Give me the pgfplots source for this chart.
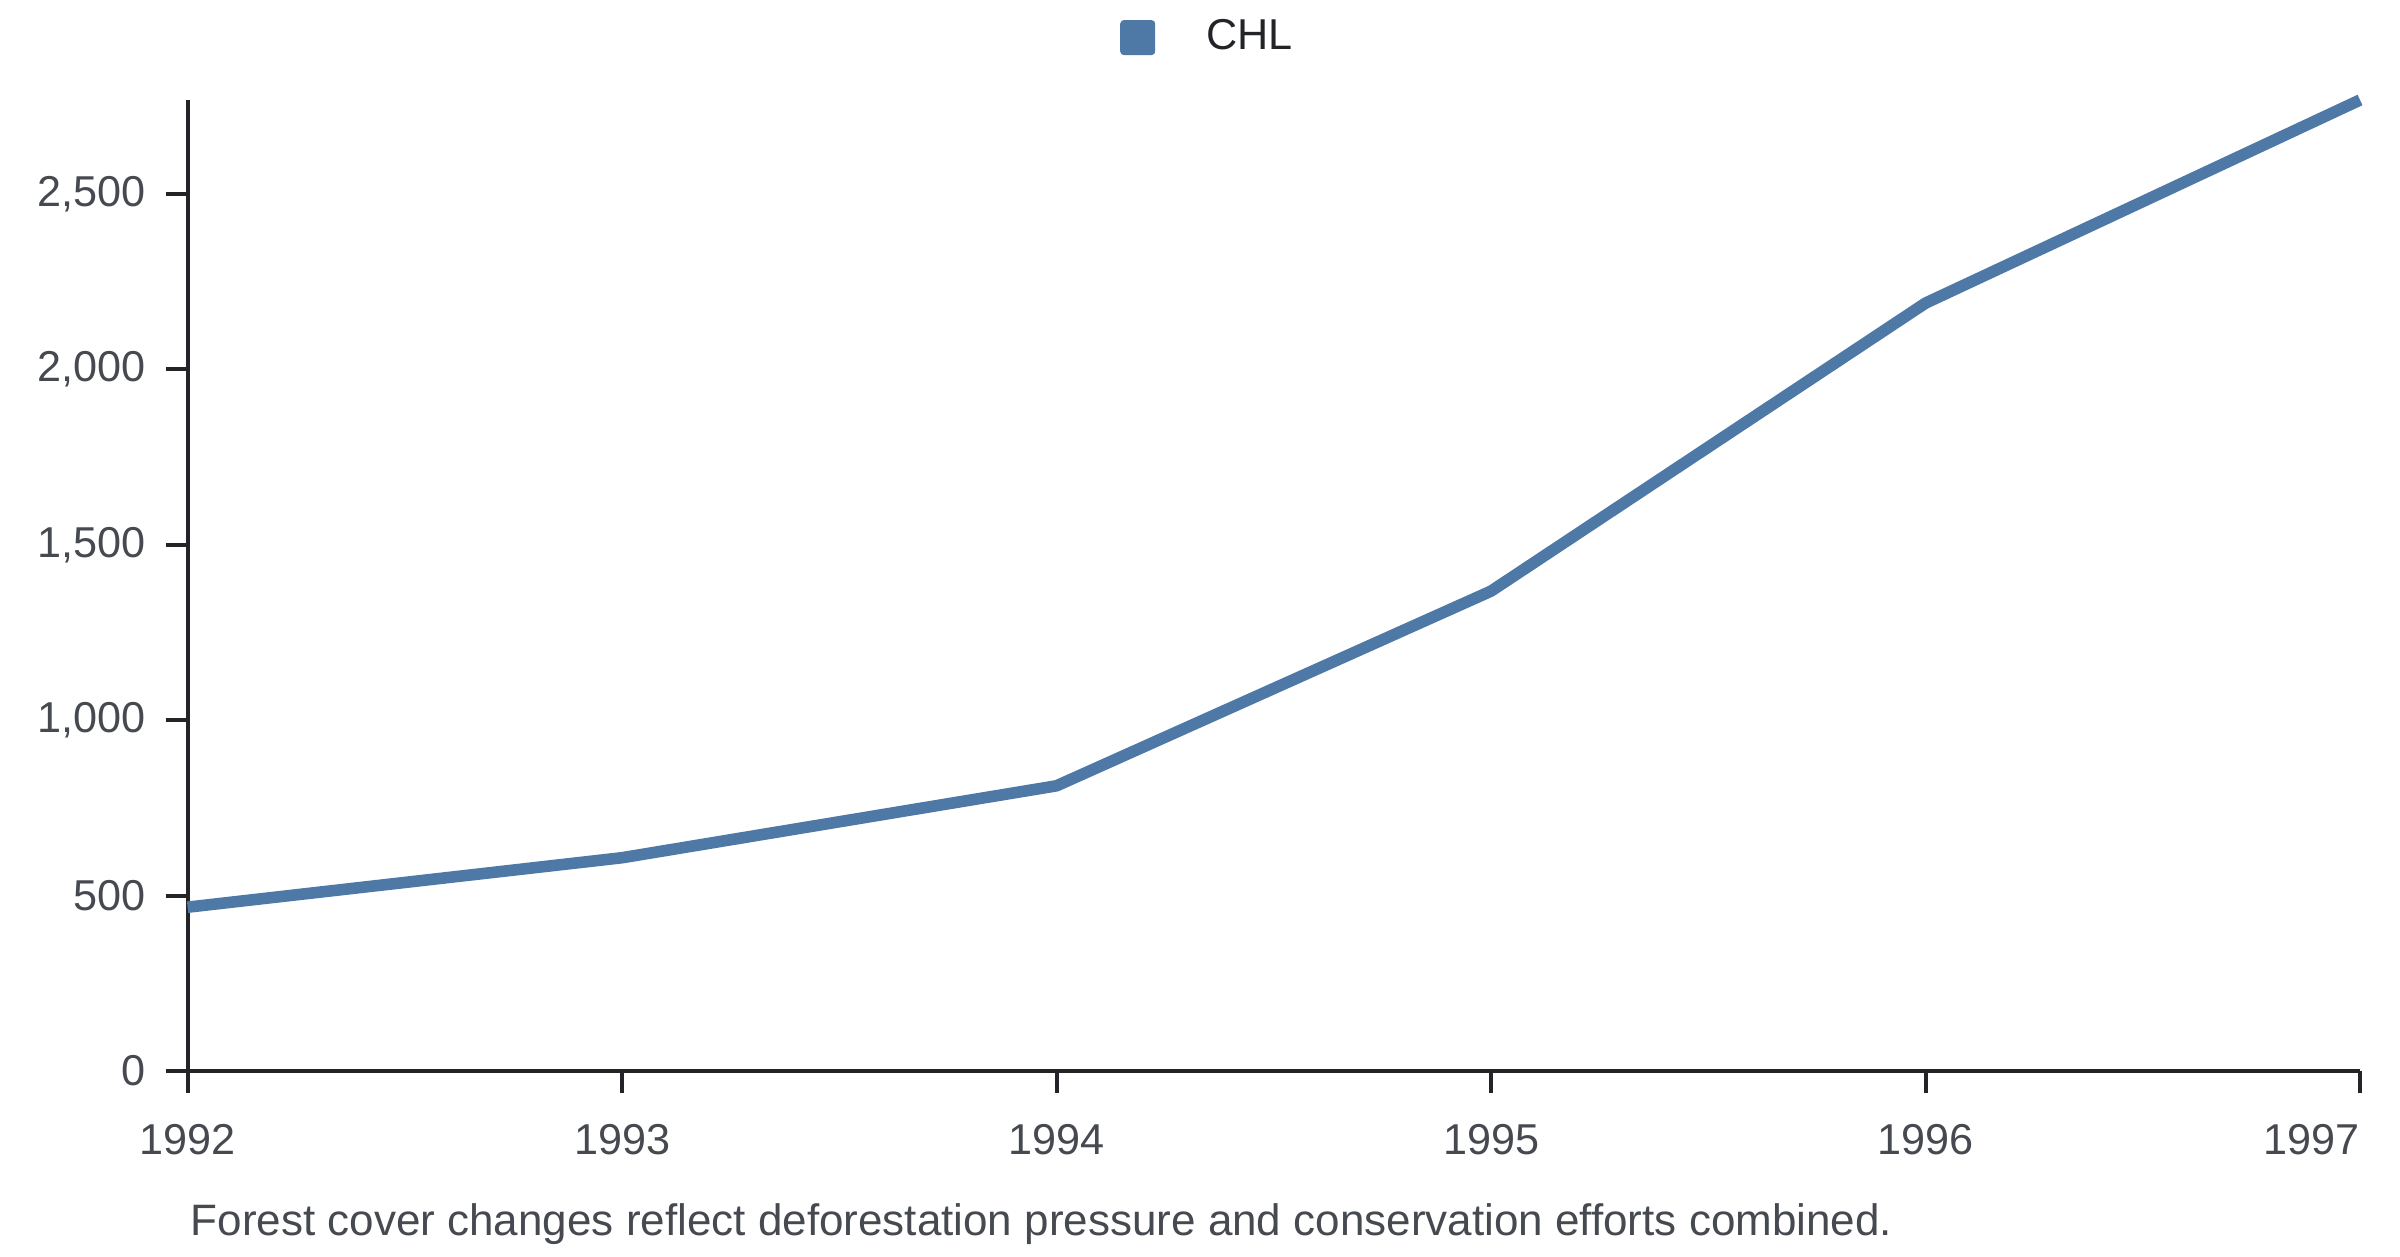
\documentclass[border=0pt]{standalone}
\usepackage{pgfplots}
\pgfplotsset{compat=1.18}
\usepackage{fontspec}
\setmainfont{Liberation Sans}
\definecolor{linec}{HTML}{4E79A7}
\definecolor{txt}{HTML}{464A50}
\definecolor{axc}{HTML}{222428}
\begin{document}
\begin{tikzpicture}
\useasboundingbox (0,0) rectangle (600pt,314pt);
\begin{axis}[
  at={(46.9pt,46.25pt)}, anchor=south west,
  scale only axis, width=543.1pt, height=242.75pt,
  xmin=1992, xmax=1997, ymin=0, ymax=2768,
  axis x line*=bottom, axis y line*=left,
  axis line style={axc, line width=1pt},
  tick style={axc, line width=1pt},
  tick align=outside, major tick length=5.5pt,
  xtick={1992,1993,1994,1995,1996,1997},
  xticklabels={1992,1993,1994,1995,1996,\makebox[0pt][r]{1997}},
  ytick={0,500,1000,1500,2000,2500},
  /pgf/number format/assume math mode=true,
  x tick label style={font=\fontsize{10.8}{13}\selectfont, text=txt, yshift=-4.4pt},
  y tick label style={/pgf/number format/1000 sep={,}, font=\fontsize{10.8}{13}\selectfont, text=txt, xshift=-1.4pt},
  legend style={at={(0.469,1)}, anchor=center, yshift=15.6pt, draw=none, fill=none,
    inner sep=0pt, outer sep=0pt, nodes={inner sep=0pt},
    font=\fontsize{10.8}{13}\selectfont, text=axc, legend columns=-1},
  legend image code/.code={\fill[draw=none,#1,rounded corners=0.9pt] (0pt,-4.375pt) rectangle (8.75pt,4.375pt);},
  clip=false,
]
\addplot[linec, line width=2.9pt, line join=round] coordinates {
  (1992,467) (1993,608) (1994,813) (1995,1368) (1996,2189) (1997,2768)
};
\addlegendentry{\hspace{12.75pt}CHL}
\end{axis}
\node[anchor=base west, inner sep=0pt, text=txt, font=\fontsize{11}{13}\selectfont] at (47.5pt,5.25pt) {Forest cover changes reflect deforestation pressure and conservation efforts combined.};
\end{tikzpicture}
\end{document}
